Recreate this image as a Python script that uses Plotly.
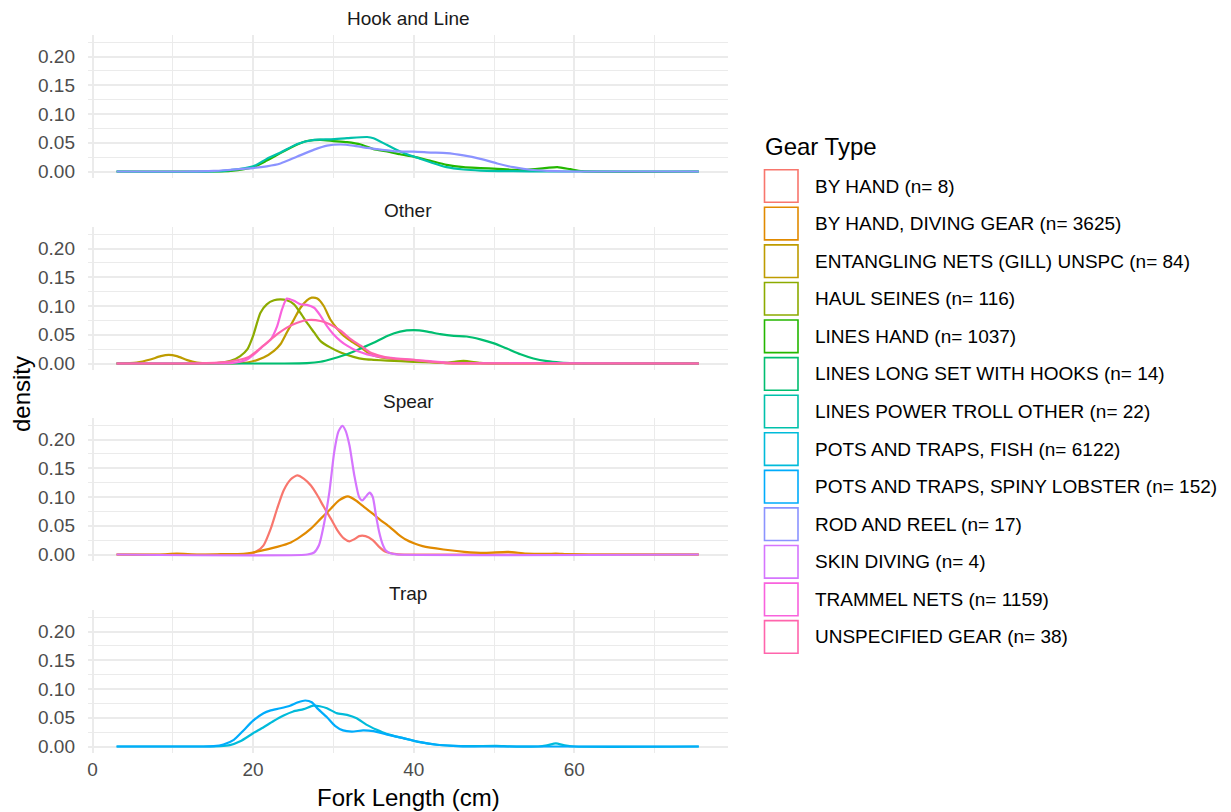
import plotly.graph_objects as go

# ---------------- data ----------------
panels = ["Hook and Line", "Other", "Spear", "Trap"]

gear_labels = [
    "BY HAND (n= 8)",
    "BY HAND, DIVING GEAR (n= 3625)",
    "ENTANGLING NETS (GILL) UNSPC (n= 84)",
    "HAUL SEINES (n= 116)",
    "LINES HAND (n= 1037)",
    "LINES LONG SET WITH HOOKS (n= 14)",
    "LINES POWER TROLL OTHER (n= 22)",
    "POTS AND TRAPS, FISH (n= 6122)",
    "POTS AND TRAPS, SPINY LOBSTER (n= 152)",
    "ROD AND REEL (n= 17)",
    "SKIN DIVING (n= 4)",
    "TRAMMEL NETS (n= 1159)",
    "UNSPECIFIED GEAR (n= 38)",
]
gear_colors = ["#F8766D", "#E18A00", "#BE9C00", "#8CAB00", "#24B700", "#00BE70", "#00C1AB",
               "#00BBDA", "#00ACFC", "#8B93FF", "#D575FE", "#F962DD", "#FF65AC"]
gear_panel = ["Spear", "Spear", "Other", "Other", "Hook and Line", "Other", "Hook and Line",
              "Trap", "Trap", "Hook and Line", "Spear", "Other", "Other"]

by_hand_x = [3, 18.8, 19.7, 20.5, 21.3, 22.2, 23, 23.8, 24.7, 25.5, 26.3, 27.2, 28, 28.8, 29.7, 30.5,
             31.3, 32, 32.6, 33.2, 34, 34.9, 35.7, 36.5, 37.6, 38.8, 75.5]
by_hand_y = [0, 0, 0.0017, 0.006, 0.016, 0.045, 0.080, 0.1115, 0.131, 0.1375, 0.132, 0.120, 0.103,
             0.083, 0.062, 0.042, 0.028, 0.023, 0.0266, 0.032, 0.032, 0.025, 0.0133, 0.0046, 0.0012, 0, 0]

diving_gear_x = [3, 8.4, 10.5, 13, 16, 18.8, 20, 21.3, 23, 24.7, 25.9, 27.2, 28.4, 29.7, 30.7, 31.8,
                 32.8, 33.8, 34.9, 35.9, 37, 38, 39, 40.1, 41.1, 43.7, 46.3, 48.9, 51.7, 54, 56.6,
                 57.7, 59, 61.8, 75.5]
diving_gear_y = [0, 0, 0.0015, 0, 0.0005, 0.0012, 0.0035, 0.0075, 0.0133, 0.021, 0.031, 0.045, 0.062,
                 0.080, 0.094, 0.101, 0.094, 0.083, 0.071, 0.0595, 0.048, 0.036, 0.026, 0.019, 0.0145,
                 0.0087, 0.0047, 0.003, 0.0047, 0.0017, 0.001, 0.0017, 0.0008, 0, 0]

entangling_x = [3, 5.5, 7.2, 8.5, 9.5, 10.5, 11.8, 13, 14.7, 17.2, 19.3, 21.3, 22.6, 23.4, 24.2, 25.1,
                25.9, 26.7, 27.3, 28, 28.8, 29.6, 30.5, 31.3, 32.1, 33.4, 34.6, 35.9, 37.9, 40, 42,
                44.1, 46, 75.5]
entangling_y = [0, 0.0017, 0.007, 0.0128, 0.015, 0.0128, 0.0058, 0.0017, 0, 0, 0.0017, 0.0104, 0.022,
                0.0335, 0.054, 0.077, 0.097, 0.110, 0.1145, 0.113, 0.100, 0.077, 0.060, 0.048, 0.040,
                0.028, 0.016, 0.0104, 0.0075, 0.0046, 0.003, 0.0006, 0, 0]

haul_seines_x = [3, 15, 17.2, 18.4, 19.3, 20, 20.9, 21.7, 22.6, 23.4, 24.2, 25.1, 25.9, 26.7, 27.6,
                 28.4, 29.6, 30.9, 32.5, 33.8, 35, 36.7, 40, 44.1, 46.2, 48.3, 50.4, 75.5]
haul_seines_y = [0, 0, 0.0046, 0.013, 0.025, 0.048, 0.088, 0.103, 0.110, 0.1115, 0.110, 0.103, 0.088,
                 0.071, 0.054, 0.039, 0.028, 0.019, 0.0116, 0.0075, 0.0064, 0.005, 0.003, 0.0017,
                 0.0046, 0.001, 0, 0]

lines_hand_x = [3, 15, 17.2, 20, 21.7, 23.4, 25.5, 26.7, 28.4, 30, 31.7, 33.4, 35, 36.7, 38.3, 40, 42,
                44.1, 46.2, 48.3, 50.4, 52.4, 54.1, 56.6, 57.9, 59.5, 61, 75.5]
lines_hand_y = [0, 0, 0.001, 0.0075, 0.019, 0.032, 0.047, 0.053, 0.055, 0.053, 0.051, 0.047, 0.039,
                0.035, 0.030, 0.026, 0.019, 0.0115, 0.0075, 0.006, 0.0046, 0.003, 0.003, 0.0063,
                0.0075, 0.004, 0.0005, 0]

long_set_x = [3, 23.4, 26.7, 28.4, 30, 31.7, 33.4, 35, 36.7, 38.3, 40, 41.7, 43.3, 45, 46.6, 48.3, 50,
              51.6, 53.3, 54.9, 56.6, 58.3, 60, 62, 75.5]
long_set_y = [0, 0, 0.0006, 0.003, 0.0087, 0.016, 0.026, 0.036, 0.048, 0.0555, 0.058, 0.0555, 0.051,
              0.048, 0.047, 0.042, 0.035, 0.026, 0.016, 0.0087, 0.004, 0.0017, 0.0006, 0, 0]

power_troll_x = [3, 15, 17.2, 20, 21.7, 23.4, 25.5, 27.6, 29.7, 31.7, 34.2, 35, 36.7, 38.3, 40, 42.1,
                 44.1, 46.2, 48.3, 52.4, 56, 75.5]
power_troll_y = [0, 0, 0.0025, 0.009, 0.022, 0.033, 0.048, 0.055, 0.056, 0.058, 0.060, 0.058, 0.046,
                 0.035, 0.026, 0.016, 0.0075, 0.0035, 0.0017, 0.0006, 0, 0]

traps_fish_x = [3, 13.8, 15.9, 17.1, 18.4, 20, 21.3, 22.5, 23.8, 25, 26.3, 27.5, 28.3, 29.2, 30.4,
                31.7, 32.9, 34.1, 35.4, 36.6, 38.7, 40.8, 42.9, 44.9, 47, 50.3, 52, 55.5, 56.6, 57.7,
                58.8, 60, 75.5]
traps_fish_y = [0, 0, 0.0006, 0.0023, 0.009, 0.023, 0.0335, 0.044, 0.054, 0.061, 0.065, 0.071, 0.070,
                0.0665, 0.058, 0.055, 0.049, 0.038, 0.029, 0.022, 0.0145, 0.0075, 0.003, 0.0012,
                0.0006, 0.0012, 0.0003, 0, 0.002, 0.0055, 0.002, 0, 0]

traps_lobster_x = [3, 13.8, 15.1, 16.3, 17.6, 18.8, 20, 21.3, 22.1, 23.4, 24.6, 25.6, 26.5, 27.3, 28.1,
                   29.2, 30.2, 31.2, 32.3, 33.7, 35, 36.6, 38.7, 40.8, 42.9, 44.9, 47, 75.5]
traps_lobster_y = [0, 0, 0.0006, 0.0035, 0.0116, 0.028, 0.045, 0.058, 0.0625, 0.0665, 0.071, 0.077,
                   0.080, 0.077, 0.065, 0.051, 0.036, 0.028, 0.026, 0.028, 0.0266, 0.021, 0.0145,
                   0.0075, 0.003, 0.0012, 0, 0]

rod_reel_x = [3, 11, 15.1, 17.2, 20, 21.7, 23.4, 25.5, 27.6, 29.2, 30.9, 32.5, 34.2, 35.9, 37.9, 40,
              42.1, 44.1, 46.2, 48.3, 50.4, 52.4, 54.5, 56.6, 59, 75.5]
rod_reel_y = [0, 0, 0.001, 0.003, 0.006, 0.009, 0.014, 0.026, 0.038, 0.045, 0.047, 0.045, 0.041, 0.038,
              0.035, 0.0345, 0.033, 0.032, 0.028, 0.022, 0.014, 0.0075, 0.003, 0.001, 0, 0]

skin_diving_x = [3, 26.75, 27.6, 28.2, 28.8, 29.5, 30.1, 30.6, 31.1, 31.5, 32, 32.6, 33.2, 33.6, 34,
                 34.5, 34.9, 35.3, 35.7, 36.1, 36.5, 37.2, 38, 75.5]
skin_diving_y = [0, 0, 0.0035, 0.016, 0.051, 0.109, 0.178, 0.213, 0.224, 0.216, 0.190, 0.138, 0.100,
                 0.094, 0.100, 0.1075, 0.100, 0.068, 0.039, 0.019, 0.0075, 0.0017, 0, 0]

trammel_x = [3, 15, 17.2, 18.4, 19.3, 20.1, 21.3, 22.2, 23, 23.6, 24.2, 25.1, 25.9, 26.7, 27.6, 28.4,
             29.2, 30, 30.9, 31.7, 32.9, 34.2, 35.9, 37.9, 40, 42, 44.1, 46.2, 75.5]
trammel_y = [0, 0, 0.0006, 0.003, 0.0075, 0.016, 0.031, 0.042, 0.065, 0.094, 0.113, 0.109, 0.103,
             0.102, 0.097, 0.083, 0.065, 0.051, 0.039, 0.031, 0.022, 0.016, 0.0116, 0.0087, 0.0064,
             0.004, 0.0017, 0.0006, 0]

unspecified_x = [3, 12, 14.2, 17.1, 19.3, 20.5, 21.7, 23, 24.2, 25.5, 26.9, 28.4, 29.6, 30.9, 32.1,
                 33.4, 34.6, 35.9, 37.5, 40, 42, 44.1, 46, 75.5]
unspecified_y = [0, 0, 0.0006, 0.0035, 0.0104, 0.022, 0.036, 0.051, 0.0625, 0.071, 0.0757, 0.074,
                 0.068, 0.057, 0.043, 0.031, 0.019, 0.013, 0.0087, 0.0064, 0.003, 0.0006, 0, 0]

x_ticks = [0, 20, 40, 60]
y_ticks = [0, 0.05, 0.10, 0.15, 0.20]
y_tick_text = ["0.00", "0.05", "0.10", "0.15", "0.20"]

series_x = [by_hand_x, diving_gear_x, entangling_x, haul_seines_x, lines_hand_x, long_set_x,
            power_troll_x, traps_fish_x, traps_lobster_x, rod_reel_x, skin_diving_x, trammel_x,
            unspecified_x]
series_y = [by_hand_y, diving_gear_y, entangling_y, haul_seines_y, lines_hand_y, long_set_y,
            power_troll_y, traps_fish_y, traps_lobster_y, rod_reel_y, skin_diving_y, trammel_y,
            unspecified_y]

# ---------------- layout geometry ----------------
# Coordinates below are screen pixels of the reference; the page body adds an 8px offset.
OFF = 8
W, H = 1231 - OFF, 812 - OFF
PLOT_L, PLOT_R, PLOT_T, PLOT_B = 88, 728, 35, 753          # screen px
ML, MR, MT, MB = PLOT_L - OFF, W - (PLOT_R - OFF), PLOT_T - OFF, H - (PLOT_B - OFF)
PW, PH = W - ML - MR, H - MT - MB
panel_px = [(35.1, 178.0), (227.1, 370.0), (418.1, 561.0), (610.1, 753.0)]

def py(p):
    return (PLOT_B - p) / PH

def pxx(p):
    return (p - PLOT_L) / PW

FONT = "Liberation Sans, Arial, sans-serif"
GRID = "#EBEBEB"

fig = go.Figure()

for i, name in enumerate(gear_labels):
    k = panels.index(gear_panel[i]) + 1
    fig.add_trace(go.Scatter(
        x=series_x[i], y=series_y[i], mode="lines", name=name,
        line=dict(color=gear_colors[i], width=2.2, shape="spline", smoothing=0.6),
        xaxis="x" if k == 1 else f"x{k}", yaxis="y" if k == 1 else f"y{k}",
        showlegend=False, hoverinfo="skip"))

layout = dict(
    width=W, height=H,
    margin=dict(l=ML, r=MR, t=MT, b=MB),
    paper_bgcolor="white", plot_bgcolor="white",
    font=dict(family=FONT, size=19, color="#4D4D4D"),
    showlegend=False,
)
for k in range(1, 5):
    top, bot = panel_px[k - 1]
    suf = "" if k == 1 else str(k)
    layout["xaxis" + suf] = dict(
        domain=[0, 1], range=[-0.56, 79.14], anchor="y" + suf,
        tickmode="array", tickvals=x_ticks, ticktext=[str(v) for v in x_ticks],
        showticklabels=(k == 4), ticks="", showline=False, zeroline=False,
        showgrid=True, gridcolor=GRID, gridwidth=2.2,
        minor=dict(tickvals=[10, 30, 50, 70], showgrid=True, gridcolor=GRID, gridwidth=1.1, ticks=""),
        tickfont=dict(size=19, color="#4D4D4D", family=FONT), ticklabelstandoff=3,
    )
    layout["yaxis" + suf] = dict(
        domain=[py(bot), py(top)], range=[-0.0113, 0.2373], anchor="x" + suf,
        tickmode="array", tickvals=y_ticks, ticktext=y_tick_text,
        ticks="", showline=False, zeroline=False,
        showgrid=True, gridcolor=GRID, gridwidth=2.2,
        minor=dict(tickvals=[0.025, 0.075, 0.125, 0.175, 0.225], showgrid=True, gridcolor=GRID,
                   gridwidth=1.1, ticks=""),
        tickfont=dict(size=19, color="#4D4D4D", family=FONT), ticklabelstandoff=12,
    )
fig.update_layout(**layout)

annotations = []
shapes = []
for k, pname in enumerate(panels):
    top, bot = panel_px[k]
    annotations.append(dict(text=pname, x=0.5, y=py(top - 17), xref="paper", yref="paper",
                            xanchor="center", yanchor="middle", showarrow=False,
                            font=dict(size=19, color="#1A1A1A", family=FONT)))

annotations.append(dict(text="density", x=pxx(21), y=py(394), xref="paper", yref="paper",
                        textangle=-90, xanchor="center", yanchor="middle", showarrow=False,
                        font=dict(size=24, color="black", family=FONT)))
annotations.append(dict(text="Fork Length (cm)", x=0.5, y=py(797), xref="paper", yref="paper",
                        xanchor="center", yanchor="middle", showarrow=False,
                        font=dict(size=24, color="black", family=FONT)))

# legend (drawn manually to reproduce ggplot's outlined key boxes)
annotations.append(dict(text="Gear Type", x=pxx(763), y=py(146), xref="paper", yref="paper",
                        xanchor="left", yanchor="middle", showarrow=False,
                        font=dict(size=24, color="black", family=FONT)))
for i, name in enumerate(gear_labels):
    cy = 186 + i * 37.58
    shapes.append(dict(type="rect", xref="paper", yref="paper",
                       x0=pxx(764.5), x1=pxx(798), y0=py(cy + 16.3), y1=py(cy - 16.3),
                       line=dict(color=gear_colors[i], width=1.6), fillcolor="white", layer="above"))
    annotations.append(dict(text=name, x=pxx(813), y=py(cy), xref="paper", yref="paper",
                            xanchor="left", yanchor="middle", showarrow=False,
                            font=dict(size=19, color="black", family=FONT)))

fig.update_layout(annotations=annotations, shapes=shapes)
fig.write_html("out.html")
